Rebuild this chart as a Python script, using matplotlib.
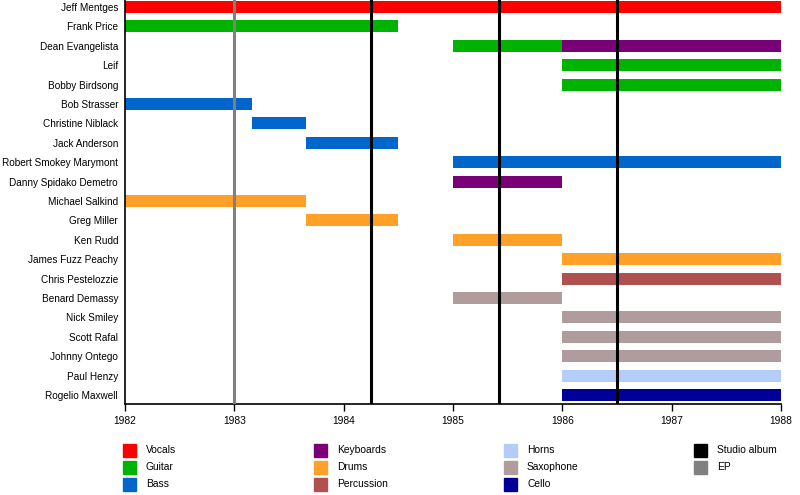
import matplotlib
matplotlib.use("Agg")
import matplotlib.pyplot as plt
from matplotlib.patches import Rectangle

plt.rcParams['font.family'] = ['Liberation Sans', 'DejaVu Sans']

members = ["Jeff Mentges", "Frank Price", "Dean Evangelista", "Leif", "Bobby Birdsong",
           "Bob Strasser", "Christine Niblack", "Jack Anderson", "Robert Smokey Marymont",
           "Danny Spidako Demetro", "Michael Salkind", "Greg Miller", "Ken Rudd",
           "James Fuzz Peachy", "Chris Pestelozzie", "Benard Demassy", "Nick Smiley",
           "Scott Rafal", "Johnny Ontego", "Paul Henzy", "Rogelio Maxwell"]

# (member, role, start, end)
stints = [
    ("Jeff Mentges", "Vocals", 1982.0, 1988.0),
    ("Frank Price", "Guitar", 1982.0, 1984.5),
    ("Dean Evangelista", "Guitar", 1985.0, 1986.0),
    ("Dean Evangelista", "Keyboards", 1986.0, 1988.0),
    ("Leif", "Guitar", 1986.0, 1988.0),
    ("Bobby Birdsong", "Guitar", 1986.0, 1988.0),
    ("Bob Strasser", "Bass", 1982.0, 1983.16),
    ("Christine Niblack", "Bass", 1983.16, 1983.66),
    ("Jack Anderson", "Bass", 1983.66, 1984.5),
    ("Robert Smokey Marymont", "Bass", 1985.0, 1988.0),
    ("Danny Spidako Demetro", "Keyboards", 1985.0, 1986.0),
    ("Michael Salkind", "Drums", 1982.0, 1983.66),
    ("Greg Miller", "Drums", 1983.66, 1984.5),
    ("Ken Rudd", "Drums", 1985.0, 1986.0),
    ("James Fuzz Peachy", "Drums", 1986.0, 1988.0),
    ("Chris Pestelozzie", "Percussion", 1986.0, 1988.0),
    ("Benard Demassy", "Saxophone", 1985.0, 1986.0),
    ("Nick Smiley", "Saxophone", 1986.0, 1988.0),
    ("Scott Rafal", "Saxophone", 1986.0, 1988.0),
    ("Johnny Ontego", "Saxophone", 1986.0, 1988.0),
    ("Paul Henzy", "Horns", 1986.0, 1988.0),
    ("Rogelio Maxwell", "Cello", 1986.0, 1988.0),
]

roles = ["Vocals", "Guitar", "Bass", "Keyboards", "Drums", "Percussion",
         "Horns", "Saxophone", "Cello"]
role_colors = ["#ff0000", "#00b300", "#0066cc", "#7a0078", "#ffa028", "#b05050",
               "#b4ccf8", "#b09c9c", "#000099"]

studio_albums = [1984.25, 1985.42, 1986.5]
eps = [1983.0]
years = [1982, 1983, 1984, 1985, 1986, 1987, 1988]

color_of = dict(zip(roles, role_colors))

fig = plt.figure(figsize=(8, 4.95), dpi=100)
ax = fig.add_axes([0.15625, 1 - 404 / 495, 0.82, 404 / 495])

for name, role, start, end in stints:
    ax.barh(members.index(name), end - start, left=start, height=0.62,
            color=color_of[role], zorder=2)

for x in studio_albums:
    ax.axvline(x, color="black", lw=2.2, zorder=3)
for x in eps:
    ax.axvline(x, color="#808080", lw=2.2, zorder=3)

ax.set_xlim(1982, 1988)
ax.set_ylim(20.46, -0.36)
ax.set_yticks(range(len(members)))
ax.set_yticklabels(members, fontsize=7.2)
ax.tick_params(axis="y", length=0, pad=5)
ax.set_xticks(years)
ax.set_xticklabels([str(y) for y in years], fontsize=7.4)
ax.tick_params(axis="x", length=5, width=1, pad=4)
for side in ["top", "right"]:
    ax.spines[side].set_visible(False)
for side in ["left", "bottom"]:
    ax.spines[side].set_linewidth(1.2)

# legend, drawn by hand in a 4-column grid
legend_items = list(zip(roles, role_colors)) + [("Studio album", "black"), ("EP", "#808080")]
col_x = [123, 314, 504, 694]
row_y = [450, 467, 484]
for i, (label, col) in enumerate(legend_items):
    c, r = divmod(i, 3)
    x0, y0 = col_x[c], row_y[r]
    fig.add_artist(Rectangle((x0 / 800, 1 - (y0 + 6.5) / 495), 13 / 800, 13 / 495,
                             transform=fig.transFigure, color=col))
    fig.text((x0 + 23) / 800, 1 - y0 / 495, label, fontsize=7.4, va="center", ha="left")

fig.savefig("out.png", dpi=100)
